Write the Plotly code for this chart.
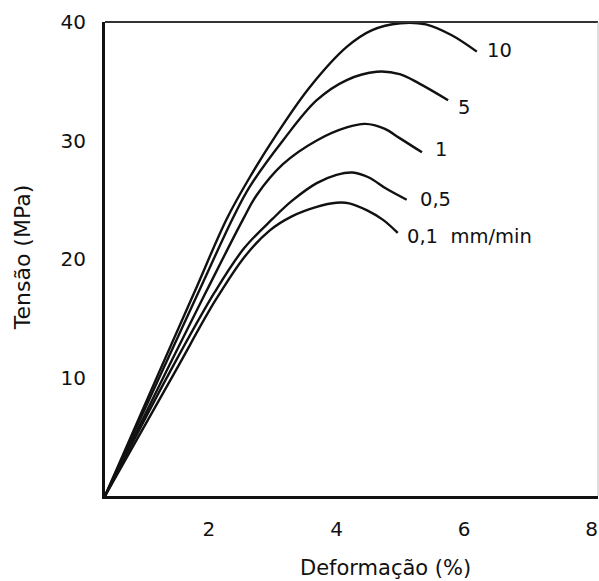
import plotly.graph_objects as go

# Data (deformation %, stress MPa)
x_10 = [0.37, 1.23, 1.78, 2.28, 2.64, 3.07, 3.58, 4.16, 4.55, 5.0, 5.4, 5.8, 6.2]
y_10 = [0, 10.6, 17.3, 23.4, 26.9, 30.6, 34.5, 37.9, 39.3, 39.9, 39.8, 38.9, 37.5]

x_5 = [0.37, 1.28, 1.87, 2.38, 2.64, 3.16, 3.69, 4.16, 4.63, 4.99, 5.3, 5.75]
y_5 = [0, 10.7, 17.6, 23.5, 26.1, 30.0, 33.4, 35.1, 35.8, 35.6, 34.8, 33.4]

x_1 = [0.37, 1.33, 1.98, 2.53, 2.75, 3.16, 3.69, 4.16, 4.45, 4.75, 4.99, 5.34]
y_1 = [0, 10.5, 17.5, 23.3, 25.4, 28.0, 30.0, 31.1, 31.4, 31.0, 30.2, 29.0]

x_05 = [0.37, 1.39, 2.09, 2.55, 3.0, 3.3, 3.69, 4.0, 4.25, 4.5, 4.79, 5.10]
y_05 = [0, 10.5, 17.2, 20.9, 23.4, 24.9, 26.4, 27.1, 27.3, 26.9, 25.9, 25.0]

x_01 = [0.37, 1.47, 2.1, 2.56, 2.95, 3.3, 3.69, 4.0, 4.2, 4.48, 4.73, 4.96]
y_01 = [0, 10.5, 16.5, 20.2, 22.4, 23.6, 24.4, 24.75, 24.7, 24.1, 23.3, 22.2]

series = [
    (x_10, y_10, "10"),
    (x_5, y_5, "5"),
    (x_1, y_1, "1"),
    (x_05, y_05, "0,5"),
    (x_01, y_01, "0,1  mm/min"),
]

# label anchor positions (data units)
label_x = [6.33, 5.87, 5.51, 5.28, 5.07]
label_y = [37.6, 32.8, 29.2, 25.0, 21.9]

x_ticks = [2, 4, 6, 8]
y_ticks = [10, 20, 30, 40]

FONT = "DejaVu Sans"
INK = "#111111"

fig = go.Figure()
for (xs, ys, name) in series:
    fig.add_trace(go.Scatter(x=xs, y=ys, mode="lines", name=name,
                             line=dict(color=INK, width=2.4, shape="spline", smoothing=1.0),
                             showlegend=False, hoverinfo="skip"))

for (xs, ys, name), lx, ly in zip(series, label_x, label_y):
    fig.add_annotation(x=lx, y=ly, text=name, showarrow=False, xanchor="left", yanchor="middle",
                       font=dict(family=FONT, size=19.5, color=INK))

fig.add_annotation(xref="paper", yref="paper", x=0.568, y=-0.152, text="Deformação (%)",
                   showarrow=False, xanchor="center", yanchor="middle",
                   font=dict(family=FONT, size=21, color=INK))
fig.add_annotation(xref="paper", yref="paper", x=-0.168, y=0.502, text="Tensão (MPa)",
                   showarrow=False, xanchor="center", yanchor="middle", textangle=-90,
                   font=dict(family=FONT, size=22, color=INK))

# top and right frame
fig.add_shape(type="line", xref="paper", yref="paper", x0=0, x1=1, y0=1, y1=1,
              line=dict(color="#333333", width=2))
fig.add_shape(type="line", xref="paper", yref="paper", x0=1, x1=1, y0=0, y1=1,
              line=dict(color="#bbbbbb", width=1))

fig.update_xaxes(range=[0.37, 8.1], tickvals=x_ticks, showgrid=False, zeroline=False,
                 showline=True, linecolor=INK, linewidth=3, ticks="",
                 ticklabelstandoff=13,
                 tickfont=dict(family=FONT, size=20, color=INK))
fig.update_yaxes(range=[0, 40], tickvals=y_ticks, showgrid=False, zeroline=False,
                 showline=True, linecolor=INK, linewidth=3, ticks="",
                 ticklabelstandoff=12,
                 tickfont=dict(family=FONT, size=20, color=INK))

fig.update_layout(width=599, height=581, margin=dict(l=105, r=1, t=22, b=85),
                  paper_bgcolor="white", plot_bgcolor="white")

fig.write_html("out.html")
